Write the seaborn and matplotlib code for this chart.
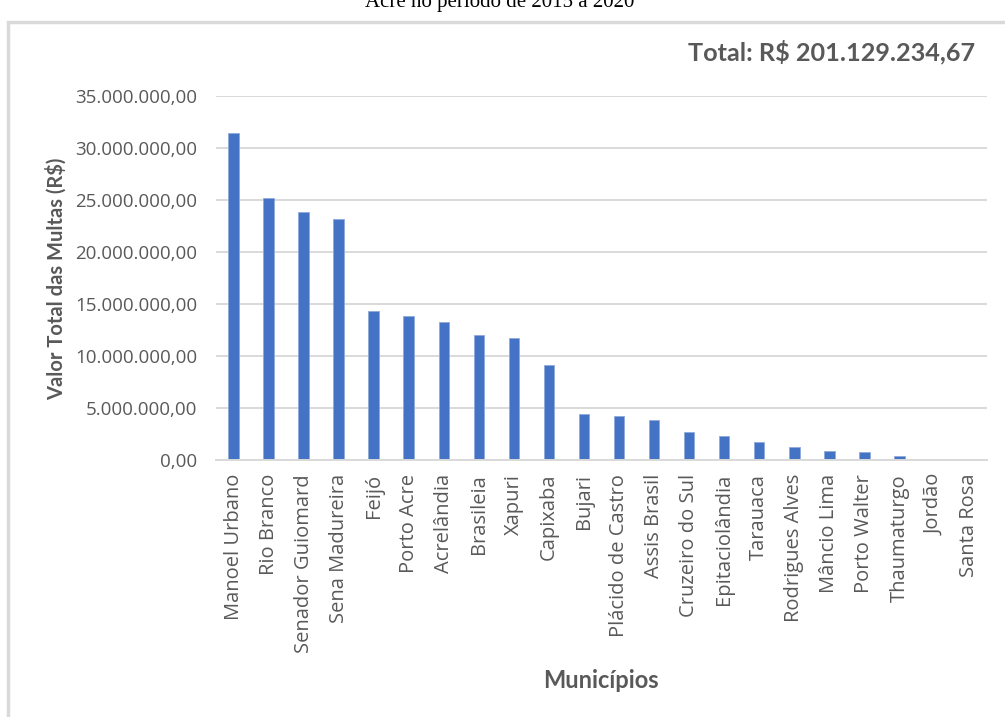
import matplotlib
matplotlib.use("Agg")
import matplotlib.pyplot as plt
import seaborn as sns
import pandas as pd
from matplotlib.patches import Rectangle
from matplotlib.ticker import FuncFormatter

municipios = ["Manoel Urbano", "Rio Branco", "Senador Guiomard", "Sena Madureira", "Feijó",
              "Porto Acre", "Acrelândia", "Brasileia", "Xapuri", "Capixaba", "Bujari",
              "Plácido de Castro", "Assis Brasil", "Cruzeiro do Sul", "Epitaciolândia",
              "Tarauaca", "Rodrigues Alves", "Mâncio Lima", "Porto Walter", "Thaumaturgo",
              "Jordão", "Santa Rosa"]
valores = [31470000, 25160000, 23810000, 23200000, 14360000, 13880000, 13270000, 12050000,
           11700000, 9130000, 4390000, 4200000, 3800000, 2720000, 2340000, 1760000,
           1250000, 900000, 770000, 410000, 0, 0]
yticks = [0, 5000000, 10000000, 15000000, 20000000, 25000000, 30000000, 35000000]
titulo = "Acre no período de 2015 a 2020"
total_txt = "Total: R$ 201.129.234,67"
ylabel_txt = "Valor Total das Multas (R$)"
xlabel_txt = "Municípios"

sns.set_theme(style="white")
plt.rcParams['font.family'] = ['Open Sans', 'DejaVu Sans']

df = pd.DataFrame({"mun": municipios, "val": valores})

fig = plt.figure(figsize=(10.05, 7.17), dpi=100)
W, H = 1005, 717
ax = fig.add_axes([216 / W, 1 - 460 / H, (987 - 216) / W, (460 - 96) / H])

sns.barplot(data=df, x="mun", y="val", color="#4472C4", width=0.3, saturation=1,
            ax=ax, edgecolor="#8EAADB", linewidth=0.6)

ax.set_ylim(0, 35000000)
ax.set_xlim(-0.5, len(municipios) - 0.5)
ax.set_yticks(yticks)

def fmt(v, pos):
    s = f"{int(round(v)):,}".replace(",", ".")
    return s + ",00"
ax.yaxis.set_major_formatter(FuncFormatter(fmt))

ax.yaxis.grid(True, color="#D9D9D9", linewidth=1.4)
ax.set_axisbelow(True)
for s in ["top", "right", "left"]:
    ax.spines[s].set_visible(False)
ax.spines["bottom"].set_color("#D9D9D9")
ax.spines["bottom"].set_linewidth(1.4)
ax.tick_params(axis="both", length=0, colors="#595959")
ax.tick_params(axis="y", pad=13.5, labelsize=13.5)
ax.tick_params(axis="x", pad=10, labelsize=14.5)
plt.setp(ax.get_xticklabels(), rotation=90)
ax.set_xlabel("")
ax.set_ylabel("")

fig.text(56 / W, 1 - 279 / H, ylabel_txt, rotation=90, ha="center", va="center",
         fontsize=14.5, fontweight="bold", color="#595959", family=["Lato", "DejaVu Sans"])
fig.text(601 / W, 1 - 680 / H, xlabel_txt, ha="center", va="center",
         fontsize=17, fontweight="bold", color="#595959", family=["Lato", "DejaVu Sans"])
fig.text(975 / W, 1 - 52 / H, total_txt, ha="right", va="center",
         fontsize=18.2, fontweight="bold", color="#595959", family=["Lato", "DejaVu Sans"])
fig.text(500 / W, 1 - 7 / H, titulo, ha="center", va="baseline",
         fontsize=15, color="black", family=["Liberation Serif", "DejaVu Serif"])

fig.patches.append(Rectangle((8 / W, -0.05), 1.2, 1 - 22 / H + 0.05, transform=fig.transFigure,
                             fill=False, edgecolor="#D9D9D9", linewidth=2.5))

fig.savefig("out.png", dpi=100)
